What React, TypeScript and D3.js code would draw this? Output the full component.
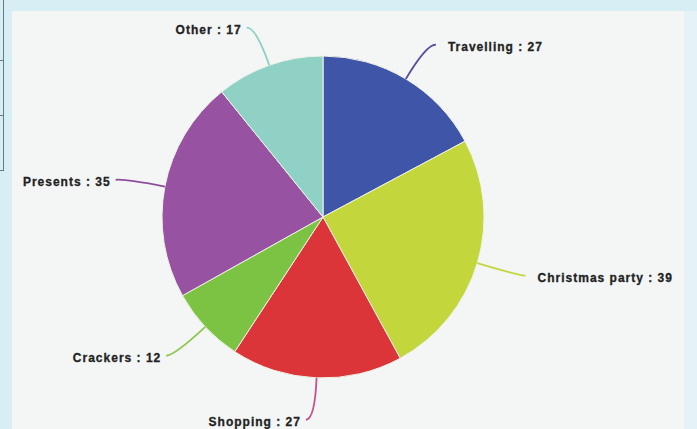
import React from "react";
import * as d3 from "d3";

const categories = ["Travelling", "Christmas party", "Shopping", "Crackers", "Presents", "Other"];
const values = [27, 39, 27, 12, 35, 17];
const sliceColors = ["#3f56a8", "#c3d63c", "#db3539", "#7cc243", "#9753a1", "#90d1c6"];
const leaderColors = ["#5b4e9e", "#c3d63c", "#c4508e", "#8cc850", "#8d4f9c", "#8fcfc4"];

const W = 697;
const H = 429;

export default function App() {
  const cx = 323;
  const cy = 217;
  const r = 161;
  const pie = d3.pie<number>().sort(null).value((d) => d)(values);
  const arc = d3.arc<d3.PieArcDatum<number>>().innerRadius(0).outerRadius(r);

  const pt = (a: number, rad: number): [number, number] => [Math.sin(a) * rad, -Math.cos(a) * rad];

  return (
    <svg width={W} height={H} style={{ position: "absolute", left: 0, top: 0 }}>
      <rect x={0} y={0} width={W} height={H} fill="#d7eef4" />
      <rect x={12} y={11} width={672} height={H - 11} fill="#f4f6f6" />
      <rect x={684} y={11} width={13} height={H - 11} fill="#e6f3f6" />
      {/* left edge fragment of a neighbouring table */}
      <g stroke="#6a7a80" strokeWidth={1}>
        <line x1={3.5} y1={0} x2={3.5} y2={170} />
        <line x1={0} y1={60.5} x2={4} y2={60.5} />
        <line x1={0} y1={115.5} x2={4} y2={115.5} />
        <line x1={0} y1={170.5} x2={4} y2={170.5} />
      </g>
      <g transform={`translate(${cx},${cy})`}>
        {pie.map((p, i) => (
          <path key={i} d={arc(p) || ""} fill={sliceColors[i]} stroke="#eef2e6" strokeWidth={1} />
        ))}
        {pie.map((p, i) => {
          const mid = (p.startAngle + p.endAngle) / 2;
          const side = Math.sin(mid) >= 0 ? 1 : -1;
          const [x0, y0] = pt(mid, r);
          const [x1, y1] = pt(mid, r + 41);
          const x2 = x1 + side * 9;
          const y2 = y1 + 1;
          const path = d3.path();
          path.moveTo(x0, y0);
          path.quadraticCurveTo(x1, y1, x2, y2);
          return (
            <g key={"l" + i}>
              <path d={path.toString()} fill="none" stroke={leaderColors[i]} strokeWidth={1.8} />
              <text
                x={x2 + side * (side > 0 ? 12 : 5)}
                y={y2 + 2}
                dy="0.35em"
                textAnchor={side > 0 ? "start" : "end"}
                fontFamily="'Liberation Sans', Arial, sans-serif"
                fontWeight="bold"
                fontSize={12}
                letterSpacing={1}
                fill="#222"
                stroke="#222"
                strokeWidth={0.3}
              >
                {categories[i]} : {values[i]}
              </text>
            </g>
          );
        })}
      </g>
    </svg>
  );
}
